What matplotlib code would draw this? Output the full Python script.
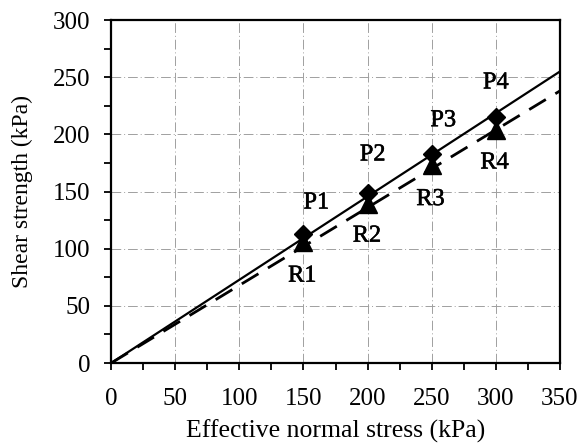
import numpy as np
import matplotlib.pyplot as plt
import matplotlib.patheffects as pe

# measured points (kPa)
normal_stress = [150, 200, 250, 300]
peak_strength = [113, 149, 183, 215]
residual_strength = [106, 139, 173, 204]
peak_labels = ['P1', 'P2', 'P3', 'P4']
residual_labels = ['R1', 'R2', 'R3', 'R4']

# fitted envelopes
fit_x = [0, 350]
peak_fit = [0, 255]
residual_fit = [0, 238]

x_ticks = [0, 50, 100, 150, 200, 250, 300, 350]
y_ticks = [0, 50, 100, 150, 200, 250, 300]

plt.rcParams['font.family'] = ['Liberation Serif', 'DejaVu Serif']
thick = [pe.withStroke(linewidth=0.4, foreground='black')]

fig = plt.figure(figsize=(5.79, 4.46), dpi=100)
ax = fig.add_axes([0.192, 0.186, 0.775, 0.769])

ax.grid(True, color='#a0a0a0', linestyle=(0, (10, 3, 1, 3)), linewidth=0.7)
ax.set_axisbelow(True)

ax.plot(fit_x, peak_fit, color='black', linewidth=1.6)
ax.plot(fit_x, residual_fit, color='black', linewidth=2.0, linestyle=(0, (7, 4)))

ax.plot(normal_stress, residual_strength, linestyle='none', marker='^',
        markersize=13, color='black')
ax.plot(normal_stress, peak_strength, linestyle='none', marker='D',
        markersize=9, color='black')

p_offsets = [(10, 27), (4, 33), (9, 29), (0, 30)]
r_offsets = [(-1, -30), (-0.5, -28), (-1, -30), (-1, -29)]
for x, y, lab, off in zip(normal_stress, peak_strength, peak_labels, p_offsets):
    ax.text(x + off[0], y + off[1], lab, fontsize=17.5, ha='center', va='center',
            path_effects=thick)
for x, y, lab, off in zip(normal_stress, residual_strength, residual_labels, r_offsets):
    ax.text(x + off[0], y + off[1], lab, fontsize=17.5, ha='center', va='center',
            path_effects=thick)

ax.set_xlim(0, 350)
ax.set_ylim(0, 300)
ax.set_xticks(x_ticks)
ax.set_yticks(y_ticks)
ax.set_xticks(np.arange(0, 351, 25), minor=True)
ax.set_yticks(np.arange(0, 301, 25), minor=True)
ax.tick_params(which='both', direction='out', length=5, width=1.3, labelsize=18)
ax.tick_params(axis='x', pad=13)
ax.tick_params(axis='y', pad=10)

for s in ax.spines.values():
    s.set_linewidth(1.6)

ax.set_xlabel('Effective normal stress (kPa)', fontsize=18.5, labelpad=7)
ax.set_ylabel('Shear strength (kPa)', fontsize=17, labelpad=14)

fig.savefig('out.png', dpi=100)
